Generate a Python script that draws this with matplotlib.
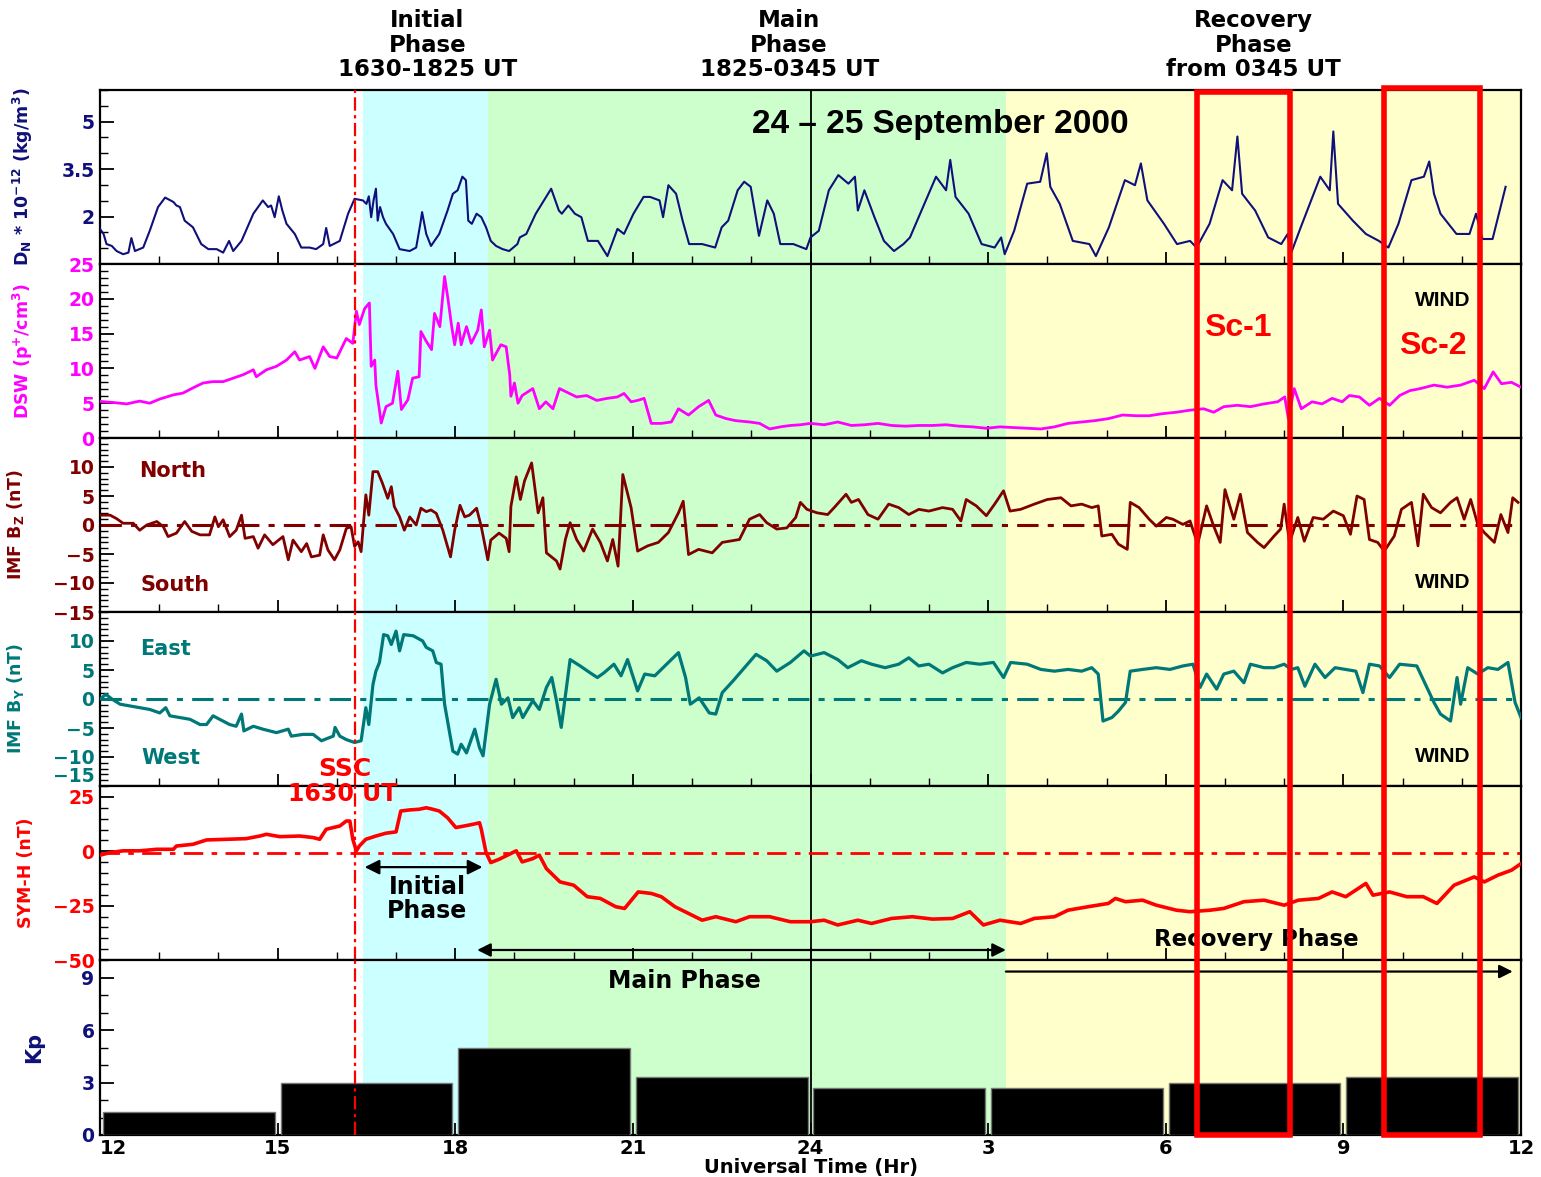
import numpy as np
import matplotlib.pyplot as plt
import matplotlib.transforms as mtransforms
from matplotlib.patches import Rectangle
from matplotlib.ticker import MultipleLocator

plt.rcParams['font.family'] = ['DejaVu Sans']
plt.rcParams['font.weight'] = 'bold'
plt.rcParams['mathtext.fontset'] = 'custom'
plt.rcParams['mathtext.rm'] = 'DejaVu Sans:bold'
plt.rcParams['mathtext.it'] = 'DejaVu Sans:bold'
plt.rcParams['mathtext.bf'] = 'DejaVu Sans:bold'
plt.rcParams['mathtext.default'] = 'rm'

NARROW = ['Liberation Sans', 'DejaVu Sans']

# ---- data (UT hours counted from 12 UT on 24 Sep; 24-36 = next day) ----
dn_t = [12.0, 12.06, 12.11, 12.2, 12.28, 12.39, 12.48, 12.53, 12.59, 12.73,
        12.84, 12.98, 13.1, 13.24, 13.29, 13.35, 13.43, 13.57, 13.71, 13.83,
        13.97, 14.08, 14.18, 14.25, 14.39, 14.59, 14.75, 14.84, 14.89, 14.95,
        15.02, 15.08, 15.15, 15.29, 15.4, 15.54, 15.65, 15.77, 15.82, 15.88,
        16.05, 16.19, 16.3, 16.44, 16.5, 16.54, 16.58, 16.62, 16.66, 16.69,
        16.73, 16.78, 16.83, 16.95, 17.06, 17.23, 17.34, 17.41, 17.44, 17.51,
        17.59, 17.73, 17.87, 17.96, 18.04, 18.12, 18.18, 18.22, 18.28, 18.36,
        18.44, 18.52, 18.6, 18.69, 18.8, 18.91, 19.05,
        19.09, 19.2, 19.36, 19.62, 19.75, 19.8, 19.91, 20.02, 20.13, 20.24,
        20.41, 20.57, 20.74, 20.85, 21.01, 21.18, 21.29, 21.45, 21.51, 21.6,
        21.73, 21.84, 21.95, 22.17, 22.39, 22.5, 22.61, 22.77, 22.88, 22.99,
        23.13, 23.27, 23.38, 23.49, 23.71, 23.93, 24.0, 24.14, 24.31, 24.47,
        24.64, 24.75, 24.8, 24.91, 25.08, 25.24, 25.41, 25.57, 25.68, 25.9,
        26.12, 26.29, 26.36, 26.45, 26.67, 26.89, 27.11, 27.22, 27.28, 27.44,
        27.66, 27.88, 27.99, 28.05, 28.21, 28.43, 28.71, 28.82, 29.04, 29.31,
        29.48, 29.58, 29.69, 29.97, 30.19, 30.41, 30.52, 30.74, 30.96, 31.12,
        31.21, 31.29, 31.51, 31.73, 31.95, 32.06, 32.11, 32.28, 32.61, 32.77,
        32.83, 32.91, 33.16, 33.38, 33.6, 33.76, 33.93, 34.15, 34.36, 34.45,
        34.53, 34.64, 34.91, 35.13, 35.24, 35.35, 35.52, 35.74]
dn_v = [1.61, 1.45, 1.13, 1.07, 0.91, 0.81, 0.86, 1.32, 0.91, 1.02,
        1.55, 2.30, 2.60, 2.46, 2.35, 2.30, 1.87, 1.66, 1.13, 0.97,
        0.97, 0.86, 1.23, 0.91, 1.23, 2.09, 2.51, 2.30, 2.35, 1.98,
        2.64, 2.19, 1.77, 1.45, 1.02, 1.02, 0.97, 1.13, 1.64, 1.07,
        1.23, 2.09, 2.56, 2.51, 2.40, 2.64, 1.98, 2.51, 2.88, 1.87,
        2.30, 1.98, 1.77, 1.45, 0.97, 0.91, 1.02, 1.77, 2.14, 1.45,
        1.07, 1.45, 2.19, 2.72, 2.83, 3.26, 3.15, 1.87, 1.77, 2.09,
        1.98, 1.66, 1.23, 1.07, 0.97, 0.91, 1.13,
        1.34, 1.45, 2.09, 2.88, 2.19, 2.09, 2.35, 2.09, 1.98, 1.23,
        1.23, 0.75, 1.61, 1.45, 2.09, 2.62, 2.62, 2.51, 1.98, 2.99,
        2.72, 1.87, 1.13, 1.13, 1.02, 1.66, 1.87, 2.83, 3.10, 2.94,
        1.39, 2.51, 2.09, 1.13, 1.13, 0.97, 1.34, 1.55, 2.83, 3.31,
        3.04, 3.26, 2.19, 2.83, 1.98, 1.23, 0.91, 1.13, 1.34, 2.30,
        3.26, 2.83, 3.79, 2.62, 2.09, 1.13, 1.02, 1.34, 0.81, 1.55,
        3.04, 3.10, 4.00, 2.94, 2.40, 1.23, 1.13, 0.75, 1.66, 3.15,
        2.99, 3.68, 2.51, 1.77, 1.13, 1.23, 1.02, 1.77, 3.15, 2.83,
        4.53, 2.72, 2.19, 1.34, 1.13, 1.45, 0.81, 1.66, 3.26, 2.83,
        4.69, 2.40, 1.87, 1.45, 1.23, 1.02, 1.77, 3.15, 3.26, 3.74,
        2.72, 2.09, 1.45, 1.45, 2.09, 1.29, 1.29, 2.94]

dsw_t = [12.0, 12.22, 12.45, 12.67, 12.84, 13.01, 13.24, 13.4, 13.57, 13.74,
         13.91, 14.08, 14.25, 14.42, 14.59, 14.64, 14.81, 14.98, 15.15, 15.29,
         15.37, 15.54, 15.63, 15.77, 15.88, 16.0, 16.16, 16.27, 16.33, 16.38,
         16.47, 16.55, 16.58, 16.64, 16.66, 16.75, 16.83, 16.94, 17.03, 17.09,
         17.2, 17.28, 17.39, 17.42, 17.51, 17.6, 17.65, 17.74, 17.82, 17.88,
         17.94, 17.99, 18.05, 18.1, 18.19, 18.27, 18.38, 18.44, 18.49, 18.58,
         18.63, 18.77, 18.86, 18.92, 18.94, 19.0, 19.06,
         19.13, 19.31, 19.42, 19.53, 19.65, 19.76, 19.88, 20.05, 20.22, 20.39,
         20.57, 20.74, 20.85, 20.97, 21.08, 21.19, 21.31, 21.48, 21.65, 21.77,
         21.94, 22.11, 22.28, 22.4, 22.57, 22.73, 22.97, 23.14, 23.31, 23.49,
         23.66, 23.83, 24.0, 24.23, 24.46, 24.69, 24.91, 25.14, 25.37, 25.6,
         25.83, 26.06, 26.29, 26.51, 26.74, 26.97, 27.2, 27.43, 27.66, 27.89,
         28.12, 28.35, 28.58, 28.81, 29.04, 29.27, 29.5, 29.72, 29.95, 30.18,
         30.41, 30.64, 30.81, 30.98, 31.21, 31.43, 31.66, 31.89, 32.01, 32.07,
         32.17, 32.29, 32.47, 32.64, 32.81, 32.98, 33.1, 33.27, 33.44, 33.61,
         33.78, 33.95, 34.12, 34.3, 34.53, 34.75, 34.98, 35.21, 35.38, 35.53,
         35.67, 35.84, 36.0]
dsw_v = [5.26, 5.1, 4.9, 5.3, 5.0, 5.6, 6.2, 6.45, 7.2, 7.9,
         8.1, 8.1, 8.6, 9.1, 9.8, 8.8, 9.8, 10.3, 11.2, 12.4,
         11.2, 11.7, 10.0, 13.1, 11.7, 11.5, 14.3, 13.6, 18.2, 16.3,
         18.6, 19.4, 10.3, 11.2, 7.6, 2.15, 4.5, 5.0, 9.6, 4.1,
         5.5, 8.6, 8.8, 15.3, 13.9, 12.7, 17.9, 16.0, 23.2, 19.8,
         16.0, 13.4, 16.5, 13.4, 16.0, 13.6, 15.5, 18.4, 13.1, 15.5,
         11.2, 13.4, 13.1, 9.1, 6.0, 7.9, 5.0,
         6.1, 7.1, 4.2, 5.2, 4.2, 7.1, 6.6, 5.9, 6.1, 5.4,
         5.7, 5.9, 6.4, 5.2, 5.4, 5.7, 2.1, 2.1, 2.3, 4.2,
         3.3, 4.5, 5.4, 3.3, 2.8, 2.5, 2.3, 2.1, 1.3, 1.6,
         1.8, 1.9, 2.1, 1.9, 2.3, 1.8, 1.9, 2.1, 1.8, 1.7,
         1.8, 1.8, 1.9, 1.7, 1.6, 1.4, 1.6, 1.5, 1.4, 1.3,
         1.6, 2.1, 2.3, 2.5, 2.8, 3.3, 3.2, 3.2, 3.5, 3.7,
         4.0, 4.2, 3.7, 4.5, 4.7, 4.5, 4.9, 5.2, 5.9, 2.8,
         7.1, 4.2, 5.2, 4.9, 5.7, 5.2, 6.1, 5.9, 4.7, 5.7,
         4.7, 6.1, 6.8, 7.1, 7.6, 7.3, 7.6, 8.3, 7.1, 9.5,
         7.8, 8.0, 7.3]

bz_t = [12.0, 12.17, 12.28, 12.39, 12.56, 12.67, 12.79, 12.96, 13.07, 13.15,
        13.29, 13.43, 13.55, 13.69, 13.85, 13.94, 14.0, 14.08, 14.19, 14.3,
        14.39, 14.45, 14.59, 14.67, 14.78, 14.92, 15.09, 15.18, 15.26, 15.4,
        15.49, 15.57, 15.71, 15.77, 15.85, 15.96, 16.05, 16.16, 16.24, 16.3,
        16.36, 16.41, 16.49, 16.54, 16.61, 16.69, 16.77, 16.86, 16.92, 16.97,
        17.06, 17.14, 17.23, 17.34, 17.42, 17.51, 17.59, 17.68, 17.79, 17.92,
        17.99, 18.08, 18.16, 18.24, 18.36, 18.44, 18.55, 18.6, 18.74, 18.86,
        18.91, 18.94, 19.03,
        19.1, 19.17, 19.29, 19.4, 19.48, 19.54, 19.71, 19.77, 19.86, 19.94,
        20.05, 20.17, 20.32, 20.45, 20.57, 20.66, 20.75, 20.83, 20.97, 21.08,
        21.25, 21.43, 21.6, 21.77, 21.85, 21.94, 22.11, 22.34, 22.51, 22.8,
        22.97, 23.14, 23.26, 23.43, 23.6, 23.75, 23.83, 23.94, 24.11, 24.29,
        24.4, 24.6, 24.69, 24.81, 24.97, 25.14, 25.32, 25.49, 25.66, 25.83,
        26.0, 26.23, 26.4, 26.54, 26.63, 26.8, 26.97, 27.11, 27.26, 27.37,
        27.55, 27.78, 28.0, 28.23, 28.4, 28.58, 28.75, 28.86, 28.92, 29.09,
        29.2, 29.35, 29.4, 29.55, 29.72, 29.84, 30.01, 30.12, 30.29, 30.41,
        30.54, 30.69, 30.81, 30.92, 31.0, 31.15, 31.26, 31.38, 31.55, 31.66,
        31.83, 31.94, 32.0, 32.09, 32.23, 32.34, 32.49, 32.66, 32.83, 33.0,
        33.12, 33.23, 33.35, 33.44, 33.58, 33.69, 33.86, 33.98, 34.15, 34.26,
        34.35, 34.49, 34.64, 34.81, 34.92, 35.04, 35.15, 35.27, 35.38, 35.55,
        35.66, 35.78, 35.86, 35.95]
bz_v = [1.7, 1.7, 1.1, 0.3, 0.3, -0.9, 0.0, 0.6, -0.3, -2.0,
        -1.4, 0.6, -1.1, -1.7, -1.7, 1.4, -0.3, 0.9, -2.0, -0.9,
        1.7, -2.3, -2.0, -4.0, -1.7, -3.4, -2.0, -6.0, -2.6, -4.6,
        -3.2, -5.5, -5.2, -1.7, -4.3, -6.0, -4.3, -0.6, -0.3, -3.7,
        -2.9, -4.6, 5.2, 1.7, 9.2, 9.2, 7.2, 4.6, 6.6, 3.2,
        1.4, -0.9, 1.4, 0.0, 2.9, 2.3, 2.6, 2.0, -0.9, -5.5,
        -0.9, 3.4, 1.4, 1.7, 2.9, -0.3, -6.0, -2.6, -1.4, -2.3,
        -4.6, 3.2, 8.3,
        4.4, 7.6, 10.7, 2.1, 4.7, -4.8, -6.2, -7.6, -2.5, 0.4,
        -2.5, -4.5, -0.7, -3.0, -6.2, -2.5, -7.1, 8.7, 3.0, -4.5,
        -3.6, -3.0, -1.3, 2.1, 4.1, -5.1, -4.2, -4.8, -3.0, -2.5,
        1.0, 1.8, 0.4, -0.7, -0.5, 1.3, 3.9, 2.7, 2.1, 1.8,
        3.0, 5.3, 3.9, 4.4, 1.8, 1.0, 3.6, 3.0, 1.8, 2.7,
        2.4, 3.0, 2.7, 0.7, 4.4, 3.3, 1.6, 3.6, 5.9, 2.4,
        2.7, 3.6, 4.4, 4.7, 3.3, 3.6, 3.0, 3.3, -1.9, -1.6,
        -3.3, -4.2, 3.9, 3.0, 1.0, -0.2, 1.3, 1.0, 0.1, 0.7,
        -3.3, 3.3, -0.2, -3.0, 6.1, 1.0, 5.3, -1.3, -3.0, -3.9,
        -1.9, -0.7, 3.6, -3.0, 1.3, -2.8, 1.3, 1.0, 2.4, 1.6,
        -1.6, 5.0, 4.4, -2.5, -3.0, -4.5, -1.9, 2.7, 3.9, -3.6,
        5.3, 3.0, 2.1, 3.9, 4.7, 1.0, 4.4, 0.1, -1.3, -3.0,
        1.8, -1.3, 4.7, 3.9]

by_t = [12.0, 12.1, 12.2, 12.34, 12.51, 12.67, 12.84, 13.01, 13.11, 13.18,
        13.35, 13.52, 13.69, 13.8, 13.91, 14.02, 14.19, 14.3, 14.39, 14.43,
        14.59, 14.75, 14.98, 15.18, 15.23, 15.43, 15.6, 15.74, 15.94, 15.97,
        16.05, 16.16, 16.3, 16.41, 16.49, 16.54, 16.61, 16.66, 16.72, 16.79,
        16.86, 16.92, 17.0, 17.06, 17.13, 17.29, 17.45, 17.51, 17.62, 17.68,
        17.76, 17.82, 17.88, 17.96, 18.04, 18.1, 18.19, 18.33, 18.41, 18.47,
        18.53, 18.58, 18.69, 18.78, 18.89, 18.97,
        19.08, 19.14, 19.31, 19.42, 19.54, 19.63, 19.71, 19.79, 19.94, 20.11,
        20.28, 20.4, 20.51, 20.68, 20.8, 20.91, 21.08, 21.2, 21.37, 21.54,
        21.77, 21.89, 21.97, 22.12, 22.29, 22.4, 22.51, 22.69, 22.86, 23.08,
        23.26, 23.43, 23.66, 23.89, 24.0, 24.23, 24.46, 24.63, 24.86, 25.03,
        25.26, 25.49, 25.66, 25.83, 26.0, 26.23, 26.4, 26.63, 26.86, 27.09,
        27.26, 27.38, 27.66, 27.89, 28.12, 28.35, 28.58, 28.75, 28.86, 28.94,
        29.09, 29.2, 29.32, 29.4, 29.61, 29.84, 30.07, 30.29, 30.46, 30.58,
        30.69, 30.86, 30.98, 31.15, 31.32, 31.43, 31.66, 31.83, 32.0, 32.12,
        32.23, 32.35, 32.52, 32.69, 32.86, 33.04, 33.21, 33.33, 33.44, 33.61,
        33.78, 33.95, 34.24, 34.41, 34.53, 34.64, 34.81, 34.92, 34.98, 35.1,
        35.27, 35.44, 35.61, 35.78, 35.9, 36.0]
by_v = [0.0, 0.8, 0.0, -0.9, -1.2, -1.5, -1.8, -2.4, -1.5, -2.9,
        -3.2, -3.5, -4.4, -4.4, -2.9, -3.5, -4.4, -4.7, -2.6, -5.5,
        -4.7, -5.2, -5.8, -5.2, -6.4, -6.1, -6.1, -7.2, -6.4, -4.9,
        -6.4, -7.0, -7.5, -7.2, -1.5, -4.4, 2.5, 4.8, 6.3, 11.1,
        10.9, 9.4, 11.7, 8.3, 11.1, 10.9, 10.0, 8.9, 8.3, 6.3,
        6.0, -0.9, -4.4, -9.0, -9.5, -7.8, -9.3, -5.2, -8.4, -9.8,
        -4.9, -0.9, 3.4, -0.9, 0.2, -3.2,
        -1.5, -3.2, -0.3, -1.8, 2.0, 3.7, -0.3, -4.9, 6.8, 5.7,
        4.5, 3.7, 4.5, 6.0, 4.0, 6.8, 1.4, 4.3, 4.0, 5.7,
        8.0, 3.7, -0.9, 0.2, -2.4, -2.6, 1.1, 3.1, 5.1, 7.7,
        6.6, 4.8, 6.3, 8.3, 7.4, 8.0, 6.8, 5.4, 6.6, 6.0,
        5.4, 6.0, 7.1, 5.7, 6.0, 4.5, 5.4, 6.3, 6.0, 6.3,
        3.7, 6.3, 6.0, 5.1, 4.8, 5.1, 4.8, 5.4, 4.3, -3.8,
        -3.2, -2.1, -0.6, 4.8, 5.1, 5.4, 5.1, 5.7, 6.0, 2.0,
        4.3, 1.7, 4.3, 4.8, 2.8, 6.0, 5.4, 5.4, 6.0, 5.1,
        5.4, 2.2, 6.0, 3.7, 5.4, 5.1, 4.8, 1.1, 6.0, 5.7,
        3.7, 6.0, 5.7, 2.0, -0.6, -2.6, -3.8, 3.7, -0.9, 5.4,
        4.3, 5.4, 5.1, 6.3, -0.6, -3.2]

symh_t = [12.0, 12.17, 12.39, 12.67, 12.96, 13.24, 13.29, 13.57, 13.8, 14.14,
          14.47, 14.7, 14.81, 15.04, 15.37, 15.6, 15.71, 15.82, 15.94, 16.05,
          16.16, 16.22, 16.27, 16.33, 16.38, 16.49, 16.66, 16.83, 17.0, 17.08,
          17.23, 17.39, 17.51, 17.62, 17.73, 17.87, 18.01, 18.15, 18.3, 18.41,
          18.44, 18.52, 18.6, 18.74, 18.86, 19.03,
          19.13, 19.31, 19.42, 19.54, 19.77, 20.0, 20.23, 20.45, 20.71, 20.86,
          21.09, 21.31, 21.48, 21.71, 21.94, 22.17, 22.4, 22.74, 22.97, 23.31,
          23.66, 24.0, 24.23, 24.46, 24.8, 25.03, 25.37, 25.72, 26.06, 26.4,
          26.69, 26.92, 27.2, 27.55, 27.78, 28.12, 28.35, 28.69, 29.03, 29.15,
          29.32, 29.61, 29.84, 30.18, 30.41, 30.75, 30.98, 31.32, 31.66, 32.0,
          32.24, 32.58, 32.81, 33.04, 33.38, 33.5, 33.78, 34.07, 34.35, 34.58,
          34.87, 35.21, 35.38, 35.61, 35.84, 36.0]
symh_v = [-1.8, -0.6, 0.2, 0.2, 0.9, 0.9, 2.4, 3.2, 5.2, 5.5,
          5.8, 7.0, 7.8, 6.7, 7.0, 6.3, 5.5, 10.1, 10.9, 11.6,
          13.9, 13.9, 5.5, 0.2, 2.4, 5.5, 7.0, 8.3, 8.9, 18.5,
          19.0, 19.3, 20.0, 19.3, 18.5, 15.4, 10.9, 11.6, 12.4, 13.1,
          10.1, -0.6, -5.2, -3.7, -2.1, 0.2,
          -4.9, -3.4, -1.8, -8.0, -14.1, -15.6, -20.9, -21.7, -25.5, -26.3,
          -18.7, -19.4, -20.9, -25.5, -28.6, -31.7, -30.1, -32.4, -30.1, -30.1,
          -32.4, -32.4, -31.7, -33.9, -31.7, -33.2, -30.9, -30.1, -31.2, -30.9,
          -27.8, -33.9, -31.7, -33.2, -30.9, -30.1, -27.1, -25.5, -24.0, -21.7,
          -23.2, -22.5, -24.8, -27.1, -27.8, -27.1, -26.3, -23.2, -22.5, -24.8,
          -22.5, -21.7, -18.7, -20.9, -14.8, -20.2, -18.7, -20.9, -20.9, -24.0,
          -15.6, -11.8, -14.1, -11.0, -8.7, -5.7]

kp_start = [12, 15, 18, 21, 24, 27, 30, 33]
kp_val = [1.33, 3.0, 5.0, 3.33, 2.67, 2.67, 3.0, 3.33]

xtick_hours = [12, 15, 18, 21, 24, 27, 30, 33, 36]
xtick_labels = ['12', '15', '18', '21', '24', '3', '6', '9', '12']

# phase boundaries / marked intervals (hours)
t_ssc = 16.3
initial_span = (16.45, 18.55)
main_span = (18.55, 27.3)
recovery_span = (27.3, 36.0)
sc1 = (30.52, 32.10)
sc2 = (33.69, 35.30)

NAVY = '#10107a'
MAGENTA = '#ff00ff'
DRED = '#800000'
TEAL = '#007878'
RED = '#ff0000'

# ---- layout ----
W, H = 1541, 1177
fig = plt.figure(figsize=(W / 100, H / 100), dpi=100)
x0, x1 = 100, 1521
edges = [90, 264, 438, 612, 786, 960, 1135]
axes = []
for i in range(6):
    top, bot = edges[i], edges[i + 1]
    ax = fig.add_axes([x0 / W, 1 - bot / H, (x1 - x0) / W, (bot - top) / H])
    ax.set_xlim(12, 36)
    ax.axvspan(*initial_span, color='#ccffff', lw=0, zorder=0)
    ax.axvspan(*main_span, color='#ccffcc', lw=0, zorder=0)
    ax.axvspan(*recovery_span, color='#ffffcc', lw=0, zorder=0)
    ax.axvline(24, color='black', lw=1.3, zorder=1)
    ax.axvline(t_ssc, color=RED, lw=1.6, ls=(0, (6, 2, 1.5, 2)), zorder=4)
    ax.set_xticks(xtick_hours)
    ax.xaxis.set_minor_locator(MultipleLocator(1))
    ax.tick_params(axis='x', which='both', direction='in', top=False,
                   labelbottom=False)
    ax.tick_params(axis='x', which='major', length=9, width=1.3)
    ax.tick_params(axis='x', which='minor', length=6, width=1.0)
    for s in ax.spines.values():
        s.set_linewidth(1.6)
    axes.append(ax)

ax_dn, ax_sw, ax_bz, ax_by, ax_sym, ax_kp = axes


def style_y(ax, color, ylim, ticks, minor, label, labx):
    ax.set_ylim(*ylim)
    ax.set_yticks(ticks)
    ax.yaxis.set_minor_locator(MultipleLocator(minor))
    ax.tick_params(axis='y', which='both', direction='in', labelcolor=color,
                   labelsize=13.5)
    ax.tick_params(axis='y', which='major', length=10, width=1.3, pad=4)
    ax.tick_params(axis='y', which='minor', length=6, width=1.0)
    ax.set_ylabel(label, color=color, fontsize=12.5, fontweight='bold')
    ax.yaxis.set_label_coords(labx, 0.5)


# density panel
ax_dn.plot(dn_t, dn_v, color=NAVY, lw=1.5, zorder=3)
style_y(ax_dn, NAVY, (0.5, 6.0), [2, 3.5, 5], 0.5,
        r'D$_N$ * 10$^{-12}$ (kg/m$^3$)', -0.046)
ax_dn.set_yticklabels(['2', '3.5', '5'])
ax_dn.text(26.2, 4.9, '24 \u2013 25 September 2000', ha='center', va='center',
           fontsize=24, fontweight='bold', family=NARROW, zorder=5)

# solar wind density
ax_sw.plot(dsw_t, dsw_v, color=MAGENTA, lw=2.0, zorder=3)
style_y(ax_sw, MAGENTA, (0, 25), [0, 5, 10, 15, 20, 25], 1,
        r'DSW (p$^{+}$/cm$^3$)', -0.046)
ax_sw.text(34.68, 19.8, 'WIND', ha='center', va='center', fontsize=15,
           fontweight='bold', family=NARROW)
ax_sw.text(31.22, 15.8, 'Sc-1', color=RED, ha='center', va='center',
           fontsize=23, fontweight='bold', family=NARROW, zorder=6)
ax_sw.text(34.51, 13.2, 'Sc-2', color=RED, ha='center', va='center',
           fontsize=23, fontweight='bold', family=NARROW, zorder=6)

# IMF Bz
ax_bz.plot(bz_t, bz_v, color=DRED, lw=2.0, zorder=3)
ax_bz.axhline(0, color=DRED, lw=2.2, ls=(0, (7, 3, 2, 3)), zorder=2)
style_y(ax_bz, DRED, (-15, 15), [-15, -10, -5, 0, 5, 10], 1,
        r'IMF B$_Z$ (nT)', -0.052)
ax_bz.text(13.23, 9.3, 'North', color=DRED, ha='center', va='center', fontsize=15)
ax_bz.text(13.26, -10.3, 'South', color=DRED, ha='center', va='center', fontsize=15)
ax_bz.text(34.68, -10.0, 'WIND', ha='center', va='center', fontsize=15,
           family=NARROW)

# IMF By
ax_by.plot(by_t, by_v, color=TEAL, lw=2.3, zorder=3)
ax_by.axhline(0, color=TEAL, lw=2.2, ls=(0, (7, 3, 2, 3)), zorder=2)
style_y(ax_by, TEAL, (-15, 15), [-15, -10, -5, 0, 5, 10], 1,
        r'IMF B$_Y$ (nT)', -0.052)
# lift the bottom label so it clears the SYM-H "25" just below
ax_by.get_yticklabels()[0].set_verticalalignment('bottom')
ax_by.text(13.1, 8.6, 'East', color=TEAL, ha='center', va='center', fontsize=15)
ax_by.text(13.2, -10.2, 'West', color=TEAL, ha='center', va='center', fontsize=15)
ax_by.text(34.68, -10.0, 'WIND', ha='center', va='center', fontsize=15,
           family=NARROW)
ax_by.text(16.13, -12.1, 'SSC', color=RED, ha='center', va='center',
           fontsize=18, zorder=6)

# SYM-H
ax_sym.plot(symh_t, symh_v, color=RED, lw=2.6, zorder=3)
ax_sym.axhline(-1, color=RED, lw=2.0, ls=(0, (7, 3, 2, 3)), zorder=2)
style_y(ax_sym, RED, (-50, 30), [-50, -25, 0, 25], 5,
        'SYM-H (nT)', -0.046)
ax_sym.text(16.1, 26.1, '1630 UT', color=RED, ha='center', va='center',
            fontsize=17, zorder=6, clip_on=False)
ax_sym.annotate('', xy=(18.46, -7.3), xytext=(16.47, -7.3),
                arrowprops=dict(arrowstyle='<|-|>', color='black', lw=1.6,
                                mutation_scale=22, shrinkA=0, shrinkB=0))
ax_sym.text(17.53, -22.0, 'Initial\nPhase', ha='center', va='center',
            fontsize=17, linespacing=1.0)
ax_sym.annotate('', xy=(27.3, -45.4), xytext=(18.37, -45.4),
                arrowprops=dict(arrowstyle='<|-|>', color='black', lw=1.6,
                                mutation_scale=20, shrinkA=0, shrinkB=0))
ax_sym.text(31.53, -40.4, 'Recovery Phase', ha='center', va='center',
            fontsize=16.5, zorder=5)

# Kp
ax_kp.bar(np.array(kp_start) + 1.5, kp_val, width=2.9, color='black',
          edgecolor='#777777', lw=1.0, zorder=3)
style_y(ax_kp, NAVY, (0, 10), [0, 3, 6, 9], 1, 'Kp', -0.039)
ax_kp.yaxis.label.set_fontsize(15)
ax_kp.text(21.87, 8.8, 'Main Phase', ha='center', va='center', fontsize=17)
ax_kp.annotate('', xy=(35.86, 9.34), xytext=(27.3, 9.34),
               arrowprops=dict(arrowstyle='-|>', color='black', lw=1.6,
                               mutation_scale=20, shrinkA=0, shrinkB=0))
ax_kp.tick_params(axis='x', labelbottom=True, labelsize=14, pad=3)
ax_kp.set_xticklabels(xtick_labels)
ax_kp.get_xticklabels()[0].set_horizontalalignment('left')
ax_kp.set_xlabel('Universal Time (Hr)', fontsize=14, fontweight='bold',
                 labelpad=0)

# phase headers above the top panel
trans_top = mtransforms.blended_transform_factory(ax_dn.transData, fig.transFigure)
headers = [(17.53, 'Initial\nPhase\n1630-1825 UT'),
           (23.64, 'Main\nPhase\n1825-0345 UT'),
           (31.48, 'Recovery\nPhase\nfrom 0345 UT')]
for hx, txt in headers:
    ax_dn.text(hx, 1 - 45 / H, txt, transform=trans_top, ha='center',
               va='center', fontsize=16.5, linespacing=1.1, clip_on=False)

# Sc-1 / Sc-2 boxes spanning all panels
trans_box = mtransforms.blended_transform_factory(ax_kp.transData, fig.transFigure)
for (a, b), top in [(sc1, 92), (sc2, 88)]:
    rect = Rectangle((a, 1 - 1135 / H), b - a, (1135 - top) / H,
                     transform=trans_box, fill=False, ec=RED, lw=4, zorder=10)
    fig.add_artist(rect)

fig.savefig('out.png', dpi=100)
